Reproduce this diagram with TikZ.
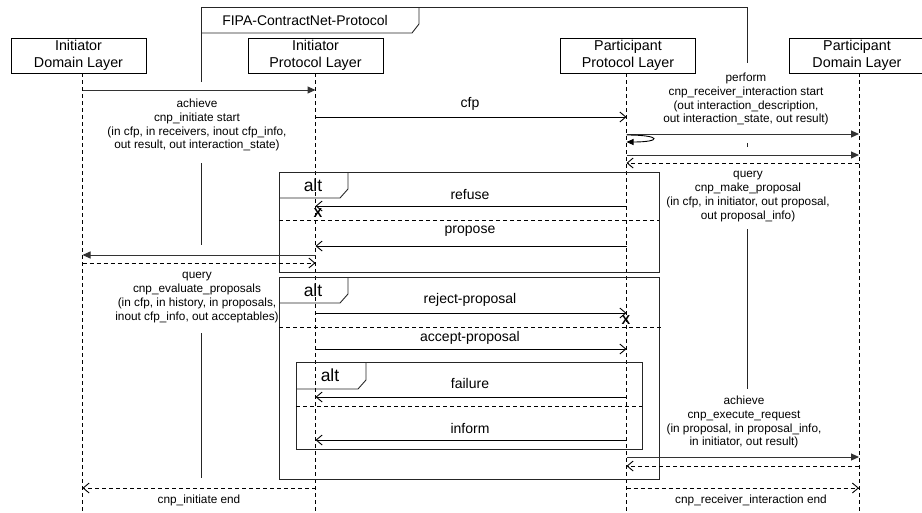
\documentclass[tikz,border=0pt]{standalone}
\usepackage{fontspec}
\setmainfont{Liberation Sans}
\usetikzlibrary{arrows.meta}
\begin{document}
\begin{tikzpicture}[x=1pt,y=-1pt,
  lifebox/.style={draw,line width=0.9pt,minimum width=135pt,minimum height=35pt,inner sep=0pt,align=center,font=\fontsize{14.3}{17}\selectfont},
  lifeline/.style={line width=0.8pt,dash pattern=on 4pt off 3pt},
  framel/.style={line width=0.9pt,draw=black!85},
  sepline/.style={line width=0.8pt,dash pattern=on 4pt off 3pt},
  syncmsg/.style={line width=1pt,draw=black!80,-{Triangle[length=8pt,width=7pt]}},
  asyncmsg/.style={line width=0.9pt,-{Straight Barb[length=6pt,width=10pt,line width=0.9pt]}},
  retmsg/.style={line width=0.9pt,dash pattern=on 4pt off 3pt,-{Straight Barb[length=6pt,width=10pt,line width=0.9pt]}},
  msglbl/.style={font=\fontsize{14}{17}\selectfont,inner sep=0pt},
  smalllbl/.style={font=\fontsize{11.8}{13.9}\selectfont,align=center,inner sep=0pt},
  altlbl/.style={font=\fontsize{17.5}{20}\selectfont,inner sep=0pt},
  xmark/.style={font=\fontsize{13}{16}\selectfont\bfseries,inner sep=0pt}]
\useasboundingbox (0,0) rectangle (922,512);

% lifeline boxes
\node[lifebox] (idl) at (78.5,55.5) {Initiator\\Domain Layer};
\node[lifebox] (ipl) at (315.5,55.5) {Initiator\\Protocol Layer};
\node[lifebox] (ppl) at (628,55.5) {Participant\\Protocol Layer};
\node[lifebox] (pdl) at (857,55.5) {Participant\\Domain Layer};

% lifeline coordinates
\coordinate (L1) at (82.5,73);
\coordinate (L2) at (315.5,73);
\coordinate (L3) at (626.5,73);
\coordinate (L4) at (859,73);
\coordinate (E1) at (82.5,512);
\coordinate (E2) at (315.5,512);
\coordinate (E3) at (626.5,512);
\coordinate (E4) at (859,512);
\draw[lifeline] (L1) -- (E1);
\draw[lifeline] (L2) -- (E2);
\draw[lifeline] (L3) -- (E3);
\draw[lifeline] (L4) -- (E4);

% protocol frame
\draw[framel] (201,82) -- (201,7) -- (747,7) -- (747,63);
\draw[framel] (201,163) -- (201,245);
\draw[framel] (201,333) -- (201,478);
\draw[framel] (747,143) -- (747,147);
\draw[framel] (747,229) -- (747,389);
\draw[framel] (201,33) -- (412,33) -- (419,24) -- (419,7);
\node[msglbl] (fipa) at (305,20) {FIPA-ContractNet-Protocol};

% alt frames
\draw[framel] (279,172) rectangle (659,272);
\draw[framel] (279,198) -- (340,198) -- (348,189) -- (348,172);
\node[altlbl] (alt1) at (313,185) {alt};
\draw[sepline] (279,220) -- (659,220);

\draw[framel] (279,277) rectangle (659,479);
\draw[framel] (279,303) -- (340,303) -- (348,294) -- (348,277);
\node[altlbl] (alt2) at (313,290) {alt};
\draw[sepline] (279,327) -- (661,327);

\draw[framel] (296,362) rectangle (642,449);
\draw[framel] (296,389) -- (358,389) -- (366,380) -- (366,362);
\node[altlbl] (alt3) at (330,375) {alt};
\draw[sepline] (296,406) -- (642,406);

% messages
\draw[syncmsg] (L1 |- 0,90) -- (L2 |- 0,90);
\node[smalllbl] (m1) at (197,125) {achieve\\cnp\_initiate start\\(in cfp, in receivers, inout cfp\_info,\\out result, out interaction\_state)};

\draw[asyncmsg] (L2 |- 0,117) -- (L3 |- 0,117);
\node[msglbl] (cfp) at (470,104) {cfp};

\draw[syncmsg] (L3 |- 0,134) -- (L4 |- 0,134);
\node[smalllbl] (m2) at (746,99) {perform\\cnp\_receiver\_interaction start\\(out interaction\_description,\\out interaction\_state, out result)};
\draw[line width=0.9pt,-{Triangle[length=7pt,width=6pt]}] (L3 |- 0,135) .. controls (662,135) and (662,142) .. (L3 |- 0,142);

\draw[syncmsg] (L3 |- 0,155) -- (L4 |- 0,155);
\draw[retmsg] (L4 |- 0,163) -- (L3 |- 0,163);
\node[smalllbl] (m3) at (748,196.5) {query\\cnp\_make\_proposal\\(in cfp, in initiator, out proposal,\\out proposal\_info)};

\draw[asyncmsg] (L3 |- 0,206) -- (L2 |- 0,206);
\node[msglbl] (refuse) at (470,194) {refuse};
\node[xmark] (x1) at (318,213) {X};

\draw[asyncmsg] (L3 |- 0,246) -- (L2 |- 0,246);
\node[msglbl] (propose) at (470,231) {propose};

\draw[syncmsg] (L2 |- 0,255) -- (L1 |- 0,255);
\draw[retmsg] (L1 |- 0,263) -- (L2 |- 0,263);
\node[smalllbl] (m4) at (197,297.5) {query\\cnp\_evaluate\_proposals\\(in cfp, in history, in proposals,\\inout cfp\_info, out acceptables)};

\draw[asyncmsg] (L2 |- 0,313) -- (L3 |- 0,313);
\node[msglbl] (reject) at (470,300) {reject-proposal};
\node[xmark] (x2) at (626,320) {X};

\draw[asyncmsg] (L2 |- 0,349) -- (L3 |- 0,349);
\node[msglbl] (accept) at (470,338) {accept-proposal};

\draw[asyncmsg] (L3 |- 0,397) -- (L2 |- 0,397);
\node[msglbl] (failure) at (470,383) {failure};

\draw[asyncmsg] (L3 |- 0,440) -- (L2 |- 0,440);
\node[msglbl] (inform) at (470,428) {inform};

\node[smalllbl] (m5) at (744,422) {achieve\\cnp\_execute\_request\\(in proposal, in proposal\_info,\\in initiator, out result)};
\draw[syncmsg] (L3 |- 0,457) -- (L4 |- 0,457);
\draw[retmsg] (L4 |- 0,466) -- (L3 |- 0,466);

\draw[retmsg] (L2 |- 0,488) -- (L1 |- 0,488);
\node[smalllbl] (e1) at (199,500) {cnp\_initiate end};
\draw[retmsg] (L3 |- 0,488) -- (L4 |- 0,488);
\node[smalllbl] (e2) at (751,500) {cnp\_receiver\_interaction end};
\end{tikzpicture}
\end{document}
